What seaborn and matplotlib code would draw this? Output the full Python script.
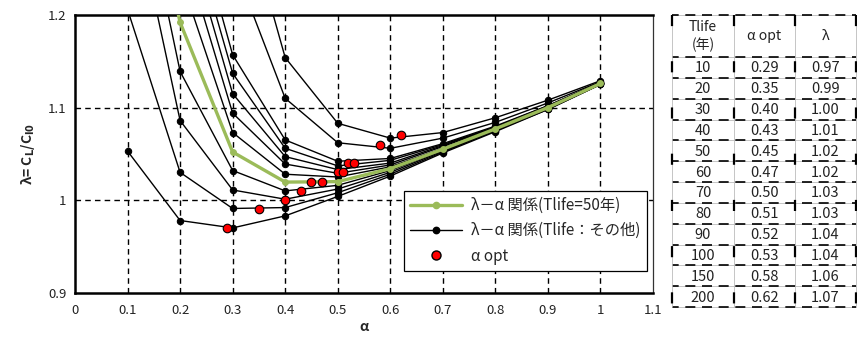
import numpy as np
import pandas as pd
import matplotlib
matplotlib.use("Agg")
import matplotlib.pyplot as plt
from matplotlib.lines import Line2D
from matplotlib.ticker import MultipleLocator
import seaborn as sns

# ---- data -------------------------------------------------------------
alpha = [0.1, 0.2, 0.3, 0.4, 0.5, 0.6, 0.7, 0.8, 0.9, 1.0]
tlife = [10, 20, 30, 40, 50, 60, 70, 80, 90, 100, 150, 200]
nan = np.nan
lam = {
    10:  [1.053, 0.978, 0.970, 0.983, 1.004, 1.026, 1.051, 1.074, 1.098, 1.125],
    20:  [1.206, 1.030, 0.991, 0.992, 1.008, 1.028, 1.052, 1.075, 1.098, 1.125],
    30:  [1.350, 1.086, 1.011, 1.001, 1.012, 1.030, 1.053, 1.075, 1.099, 1.125],
    40:  [1.410, 1.139, 1.032, 1.010, 1.016, 1.032, 1.054, 1.076, 1.099, 1.126],
    50:  [1.450, 1.192, 1.052, 1.0195, 1.020, 1.034, 1.055, 1.077, 1.100, 1.126],
    60:  [nan, 1.242, 1.073, 1.028, 1.025, 1.036, 1.056, 1.077, 1.100, 1.126],
    70:  [nan, 1.283, 1.094, 1.039, 1.029, 1.038, 1.058, 1.078, 1.101, 1.126],
    80:  [nan, 1.312, 1.115, 1.047, 1.033, 1.040, 1.059, 1.079, 1.101, 1.127],
    90:  [nan, 1.335, 1.137, 1.056, 1.037, 1.043, 1.060, 1.079, 1.102, 1.127],
    100: [nan, 1.362, 1.157, 1.065, 1.042, 1.045, 1.061, 1.080, 1.102, 1.127],
    150: [nan, nan, 1.258, 1.110, 1.062, 1.056, 1.067, 1.084, 1.105, 1.128],
    200: [nan, nan, 1.356, 1.154, 1.083, 1.067, 1.073, 1.089, 1.108, 1.129],
}
alpha_opt = [0.29, 0.35, 0.40, 0.43, 0.45, 0.47, 0.50, 0.51, 0.52, 0.53, 0.58, 0.62]
lam_opt = [0.97, 0.99, 1.00, 1.01, 1.02, 1.02, 1.03, 1.03, 1.04, 1.04, 1.06, 1.07]
x_ticks = [0, 0.1, 0.2, 0.3, 0.4, 0.5, 0.6, 0.7, 0.8, 0.9, 1.0, 1.1]
x_labels = ["0", "0.1", "0.2", "0.3", "0.4", "0.5", "0.6", "0.7", "0.8", "0.9", "1", "1.1"]
y_ticks = [0.9, 1.0, 1.1, 1.2]
y_labels = ["0.9", "1", "1.1", "1.2"]
legend_labels = ["λ－α 関係(Tlife=50年)", "λ－α 関係(Tlife：その他)", "α opt"]
table_header = ["Tlife\n(年)", "α opt", "λ"]

long = pd.DataFrame(
    [(t, a, v) for t in tlife for a, v in zip(alpha, lam[t])],
    columns=["Tlife", "alpha", "lam"],
)
opt = pd.DataFrame({"Tlife": tlife, "alpha": alpha_opt, "lam": lam_opt})

# ---- style ------------------------------------------------------------
sns.set_style("white")
plt.rcParams["font.family"] = ["Noto Sans CJK JP", "DejaVu Sans"]
plt.rcParams["mathtext.default"] = "regular"

GREEN = "#9BBB59"
fig = plt.figure(figsize=(8.57, 3.40), dpi=100)
ax = fig.add_axes([0.0875, 0.139, 0.6745, 0.817])

# black family of curves
others = long[long["Tlife"] != 50]
sns.lineplot(data=others, x="alpha", y="lam", units="Tlife", estimator=None,
             color="black", linewidth=1.0, marker="o", markersize=4.6,
             markeredgecolor="black", ax=ax, legend=False, zorder=3)
# Tlife = 50 curve
sns.lineplot(data=long[long["Tlife"] == 50], x="alpha", y="lam",
             color=GREEN, linewidth=2.4, marker="o", markersize=4.2,
             markeredgecolor=GREEN, ax=ax, legend=False, zorder=4)
# optimum points
sns.scatterplot(data=opt, x="alpha", y="lam", color="#FF0000", edgecolor="black",
                linewidth=0.8, s=38, ax=ax, legend=False, zorder=5)

ax.set_xlim(0, 1.1)
ax.set_ylim(0.9, 1.2)
ax.set_xticks(x_ticks)
ax.set_xticklabels(x_labels, fontsize=9.5, color="#222222")
ax.set_yticks(y_ticks)
ax.set_yticklabels(y_labels, fontsize=9.5, color="#222222")
ax.yaxis.set_minor_locator(MultipleLocator(0.02))
ax.tick_params(axis="x", length=0, pad=8)
ax.tick_params(axis="y", which="both", direction="in", length=4, width=0.8,
               color="#444444", pad=6)

# dashed grid
for xv in x_ticks[1:-1]:
    ax.axvline(xv, color="black", linestyle=(0, (4, 3)), linewidth=1.0, zorder=1)
for yv in y_ticks[1:-1]:
    ax.axhline(yv, color="black", linestyle=(0, (4, 3)), linewidth=1.0, zorder=1)

for side in ["left", "bottom", "top"]:
    ax.spines[side].set_linewidth(1.8)
    ax.spines[side].set_color("black")
ax.spines["right"].set_linewidth(0.9)
ax.spines["right"].set_color("#333333")

ax.set_xlabel("α", fontsize=10, fontweight="bold", labelpad=2)
ax.set_ylabel(r"λ= C$_{\mathbf{L}}$/C$_{\mathbf{l0}}$", fontsize=10,
              fontweight="bold", labelpad=8)

handles = [
    Line2D([], [], color=GREEN, linewidth=2.4, marker="o", markersize=4.5,
           markeredgecolor=GREEN),
    Line2D([], [], color="black", linewidth=1.0, marker="o", markersize=4.6),
    Line2D([], [], linestyle="none", marker="o", markersize=6.5,
           markerfacecolor="#FF0000", markeredgecolor="black"),
]
leg = ax.legend(handles, legend_labels, loc="upper left",
                bbox_to_anchor=(0.569, 0.367), borderaxespad=0, fontsize=11,
                frameon=True, fancybox=False, framealpha=1, edgecolor="black",
                handlelength=3.4, labelspacing=0.55, borderpad=0.4,
                handletextpad=0.6)
leg.get_frame().set_linewidth(0.9)
leg.set_zorder(10)

# ---- table ------------------------------------------------------------
W, H = 857.0, 340.0
col_x = [672, 734, 795, 856]
top_y = 15
head_y = 57
row_h = (307 - head_y) / len(tlife)
row_y = [head_y + i * row_h for i in range(len(tlife) + 1)]

def fx(px):
    return px / W

def fy(py):
    return 1 - py / H

h_lines = [top_y] + row_y
for py in h_lines:
    fig.add_artist(Line2D([fx(col_x[0]), fx(col_x[-1])], [fy(py), fy(py)],
                          color="#BBBBBB", linewidth=0.6))
    fig.add_artist(Line2D([fx(col_x[0]), fx(col_x[-1])], [fy(py), fy(py)],
                          color="black", linewidth=1.2,
                          linestyle=(2, (6, 4))))
for px in col_x:
    fig.add_artist(Line2D([fx(px), fx(px)], [fy(top_y), fy(row_y[-1])],
                          color="#BBBBBB", linewidth=0.6))
    fig.add_artist(Line2D([fx(px), fx(px)], [fy(top_y), fy(row_y[-1])],
                          color="black", linewidth=1.6,
                          linestyle=(0, (5, 15.8))))

centers = [(col_x[i] + col_x[i + 1]) / 2 for i in range(3)]
for c, txt in zip(centers, table_header):
    fig.text(fx(c), fy((top_y + head_y) / 2), txt, ha="center", va="center",
             fontsize=10, linespacing=1.3, color="#222222")
for i, t in enumerate(tlife):
    yc = fy(row_y[i] + row_h / 2 + 1)
    vals = [f"{t}", f"{alpha_opt[i]:.2f}", f"{lam_opt[i]:.2f}"]
    for c, txt in zip(centers, vals):
        fig.text(fx(c), yc, txt, ha="center", va="center", fontsize=10.5,
                 color="#222222")

fig.savefig("out.png", dpi=100)
